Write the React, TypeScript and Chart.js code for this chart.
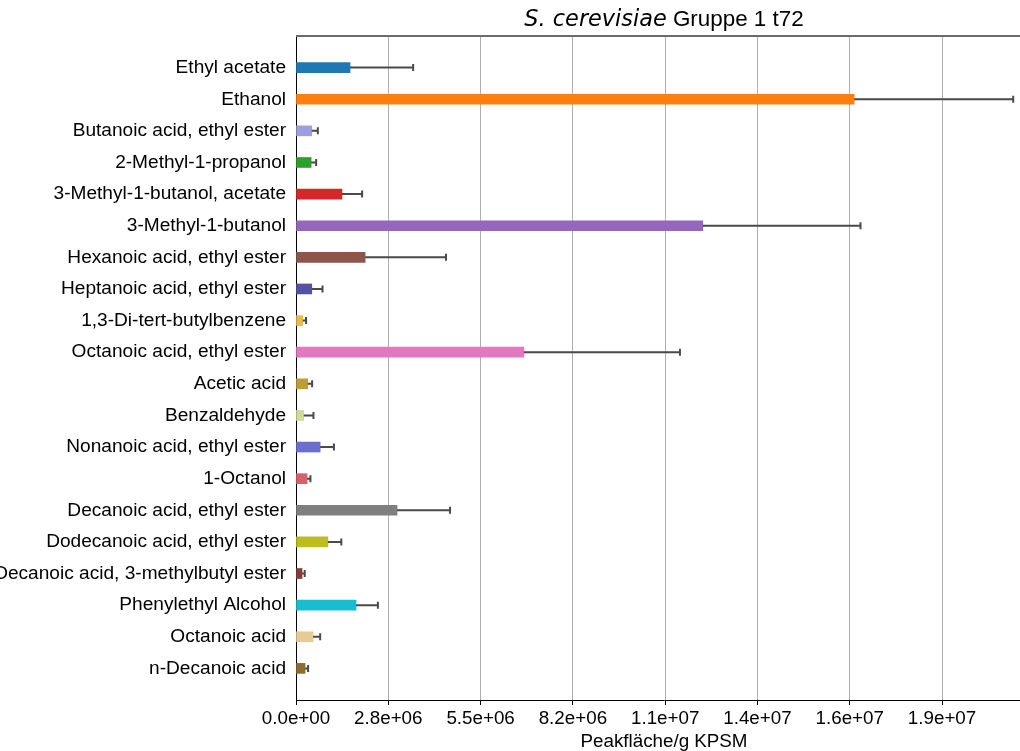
import React, { useEffect, useRef } from "react";
import { Chart, registerables } from "chart.js";

Chart.register(...registerables);

// Compounds, top to bottom
const compounds: string[] = [
  "Ethyl acetate",
  "Ethanol",
  "Butanoic acid, ethyl ester",
  "2-Methyl-1-propanol",
  "3-Methyl-1-butanol, acetate",
  "3-Methyl-1-butanol",
  "Hexanoic acid, ethyl ester",
  "Heptanoic acid, ethyl ester",
  "1,3-Di-tert-butylbenzene",
  "Octanoic acid, ethyl ester",
  "Acetic acid",
  "Benzaldehyde",
  "Nonanoic acid, ethyl ester",
  "1-Octanol",
  "Decanoic acid, ethyl ester",
  "Dodecanoic acid, ethyl ester",
  "Decanoic acid, 3-methylbutyl ester",
  "Phenylethyl Alcohol",
  "Octanoic acid",
  "n-Decanoic acid",
];

// Mean peak area per g KPSM
const means: number[] = [
  1.61e6, 16.63e6, 0.47e6, 0.45e6, 1.37e6, 12.12e6, 2.06e6, 0.47e6, 0.2e6, 6.79e6,
  0.35e6, 0.23e6, 0.72e6, 0.33e6, 3.01e6, 0.95e6, 0.18e6, 1.79e6, 0.51e6, 0.27e6,
];

// Standard deviations (drawn on the upper side only)
const errors: number[] = [
  1.88e6, 4.74e6, 0.18e6, 0.15e6, 0.6e6, 4.7e6, 2.41e6, 0.32e6, 0.1e6, 4.65e6,
  0.13e6, 0.29e6, 0.41e6, 0.1e6, 1.58e6, 0.4e6, 0.08e6, 0.65e6, 0.21e6, 0.09e6,
];

const barColors: string[] = [
  "#1f77b4", "#ff7f0e", "#9c9ede", "#2ca02c", "#d62728",
  "#9467bd", "#8c564b", "#5254a3", "#e7ba52", "#e377c2",
  "#bd9e39", "#cedb9c", "#6b6ecf", "#d6616b", "#7f7f7f",
  "#bcbd22", "#843c39", "#17becf", "#e7cb94", "#8c6d31",
];

const xTickValues: number[] = [0, 2.75e6, 5.5e6, 8.25e6, 1.1e7, 1.375e7, 1.65e7, 1.925e7];
const xTickLabels: string[] = [
  "0.0e+00", "2.8e+06", "5.5e+06", "8.2e+06", "1.1e+07", "1.4e+07", "1.6e+07", "1.9e+07",
];

const X_MAX = 21.93e6;
const FONT = "'Liberation Sans', Arial, sans-serif";
const FONT_SIZE = 18.8;

const errorBarPlugin = {
  id: "errorBars",
  afterDatasetsDraw(chart: any) {
    const { ctx, scales } = chart;
    const xs = scales.x;
    const ys = scales.y;
    ctx.save();
    ctx.strokeStyle = "#4a4a4a";
    ctx.lineWidth = 2;
    means.forEach((m, i) => {
      const x0 = xs.getPixelForValue(m);
      const x1 = xs.getPixelForValue(m + errors[i]);
      const y = ys.getPixelForValue(i);
      ctx.beginPath();
      ctx.moveTo(x0, y);
      ctx.lineTo(x1, y);
      ctx.moveTo(x1, y - 3.5);
      ctx.lineTo(x1, y + 3.5);
      ctx.stroke();
    });
    ctx.restore();
  },
};

const framePlugin = {
  id: "frameAndTitle",
  afterDraw(chart: any) {
    const { ctx, chartArea } = chart;
    ctx.save();
    // top spine
    ctx.fillStyle = "#6b6b6b";
    ctx.fillRect(chartArea.left, chartArea.top - 1, chartArea.right - chartArea.left, 2);

    // title with italic species name
    const italicFont = "italic 22.4px 'DejaVu Sans', sans-serif";
    const plainFont = `22.4px ${FONT}`;
    const partA = "S. cerevisiae";
    const partB = " Gruppe 1 t72";
    ctx.font = italicFont;
    const wA = ctx.measureText(partA).width;
    ctx.font = plainFont;
    const wB = ctx.measureText(partB).width;
    const cx = (chartArea.left + chartArea.right) / 2;
    const start = cx - (wA + wB) / 2;
    ctx.fillStyle = "#000";
    ctx.textBaseline = "alphabetic";
    ctx.textAlign = "left";
    ctx.font = italicFont;
    ctx.fillText(partA, start, 26);
    ctx.font = plainFont;
    ctx.fillText(partB, start + wA, 26);
    ctx.restore();
  },
};

export default function App() {
  const canvasRef = useRef<HTMLCanvasElement | null>(null);

  useEffect(() => {
    if (!canvasRef.current) return;
    Chart.defaults.font.family = FONT;
    Chart.defaults.font.size = FONT_SIZE;
    Chart.defaults.color = "#000";

    const chart = new Chart(canvasRef.current, {
      type: "bar",
      data: {
        datasets: [
          {
            data: means.map((v, i) => ({ x: v, y: i })),
            backgroundColor: barColors,
            borderWidth: 0,
            barThickness: 10,
          },
        ],
      },
      options: {
        indexAxis: "y",
        animation: false,
        responsive: false,
        devicePixelRatio: 1,
        layout: { padding: { top: 36, right: 8, left: 0, bottom: 0 } },
        plugins: {
          legend: { display: false },
          tooltip: { enabled: false },
          title: { display: false },
        },
        scales: {
          x: {
            type: "linear",
            position: "bottom",
            min: 0,
            max: X_MAX,
            afterBuildTicks: (scale: any) => {
              scale.ticks = xTickValues.map((v) => ({ value: v }));
            },
            afterFit: (scale: any) => {
              scale.height = 51;
            },
            ticks: {
              autoSkip: false,
              maxRotation: 0,
              padding: 3,
              callback: (value: any) => {
                const idx = xTickValues.indexOf(Number(value));
                return idx >= 0 ? xTickLabels[idx] : "";
              },
            },
            grid: {
              color: "#b0b0b0",
              lineWidth: 1,
              tickColor: "#000",
              tickLength: 5,
              drawTicks: true,
            },
            border: { color: "#000", width: 1 },
            title: {
              display: true,
              text: "Peakfläche/g KPSM",
              font: { size: FONT_SIZE, lineHeight: 1 },
              padding: { top: 0, bottom: 0 },
            },
          },
          y: {
            type: "linear",
            reverse: true,
            offset: false,
            min: -1,
            max: 20,
            afterBuildTicks: (scale: any) => {
              scale.ticks = compounds.map((_, i) => ({ value: i }));
            },
            afterFit: (scale: any) => {
              scale.width = 296;
            },
            ticks: {
              autoSkip: false,
              padding: 10,
              font: { size: 19.1 },
              callback: (value: any) => compounds[Number(value)] ?? "",
            },
            grid: { display: false, drawTicks: false },
            border: { color: "#000", width: 1 },
          },
        },
      },
      plugins: [errorBarPlugin, framePlugin],
    } as any);

    return () => chart.destroy();
  }, []);

  return (
    <div
      style={{
        position: "fixed",
        left: 0,
        top: 0,
        width: 1020,
        height: 751,
        overflow: "hidden",
        background: "#fff",
      }}
    >
      <canvas ref={canvasRef} width={1040} height={751} style={{ display: "block" }} />
    </div>
  );
}
